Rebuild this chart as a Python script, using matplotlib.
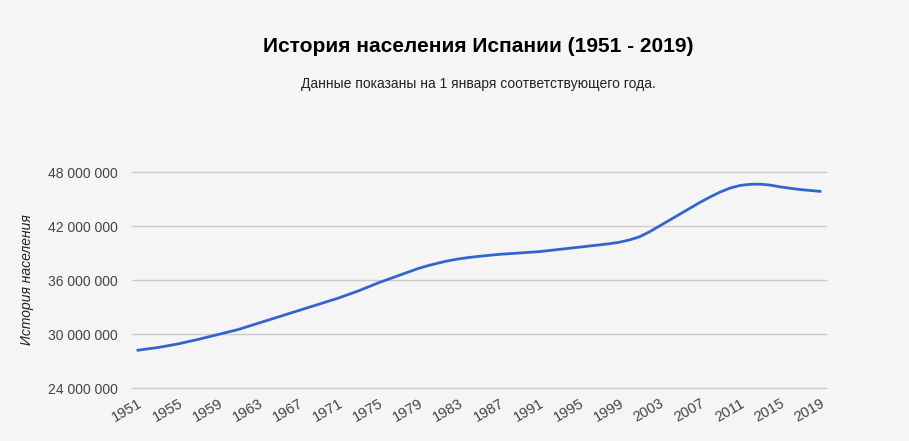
import matplotlib.pyplot as plt
from matplotlib.ticker import FuncFormatter

plt.rcParams['font.family'] = 'Liberation Sans'

years = [1951, 1953, 1955, 1957, 1959, 1961, 1963, 1965, 1967, 1969,
         1971, 1973, 1975, 1977, 1978, 1979, 1980, 1981, 1982, 1983,
         1984, 1985, 1987, 1989, 1991, 1993, 1995, 1997, 1998, 1999,
         2000, 2001, 2002, 2003, 2005, 2007, 2008, 2009, 2010, 2011,
         2012, 2013, 2014, 2015, 2017, 2019]
population = [28.2, 28.5, 28.9, 29.4, 29.95, 30.5, 31.2, 31.9, 32.6, 33.3,
              34.0, 34.8, 35.7, 36.5, 36.9, 37.3, 37.62, 37.9, 38.15, 38.35,
              38.5, 38.63, 38.85, 39.0, 39.15, 39.4, 39.65, 39.9, 40.03, 40.2,
              40.45, 40.8, 41.35, 42.0, 43.3, 44.6, 45.2, 45.75, 46.2, 46.5,
              46.63, 46.65, 46.55, 46.35, 46.05, 45.85]
population = [v * 1e6 for v in population]
tick_years = list(range(1951, 2020, 4))
y_ticks = [24e6, 30e6, 36e6, 42e6, 48e6]

bg = '#f5f5f5'
fig = plt.figure(figsize=(9.09, 4.41), dpi=100, facecolor=bg)
ax = fig.add_axes([132 / 909, 53 / 441, 694 / 909, 216 / 441], facecolor=bg)

ax.plot(years, population, color='#3366cc', linewidth=2, zorder=3)

ax.set_xlim(1950.4, 2019.6)
ax.set_ylim(24e6, 48e6)
ax.set_yticks(y_ticks)
ax.yaxis.set_major_formatter(FuncFormatter(lambda v, p: f'{int(v):,}'.replace(',', ' ')))
ax.set_xticks(tick_years)
ax.set_xticklabels([str(y) for y in tick_years], rotation=30, ha='right',
                   rotation_mode='anchor')
ax.tick_params(axis='both', length=0, labelcolor='#444444')
ax.tick_params(axis='y', pad=10, labelsize=10)
ax.tick_params(axis='x', pad=6, labelsize=10.5)
for v in y_ticks:
    ax.axhline(v, color='#cccccc', linewidth=1, clip_on=False, zorder=1)
for s in ax.spines.values():
    s.set_visible(False)

ax.set_ylabel('История населения', fontsize=10, style='italic', color='#222222',
              labelpad=10)

fig.text(478 / 909, 1 - 46 / 441, 'История населения Испании (1951 - 2019)',
         ha='center', va='center', fontsize=15, fontweight='bold',
         color='#000000')
fig.text(478 / 909, 1 - 84 / 441, 'Данные показаны на 1 января соответствующего года.',
         ha='center', va='center', fontsize=10, color='#222222')

fig.savefig('out.png', dpi=100, facecolor=bg)
